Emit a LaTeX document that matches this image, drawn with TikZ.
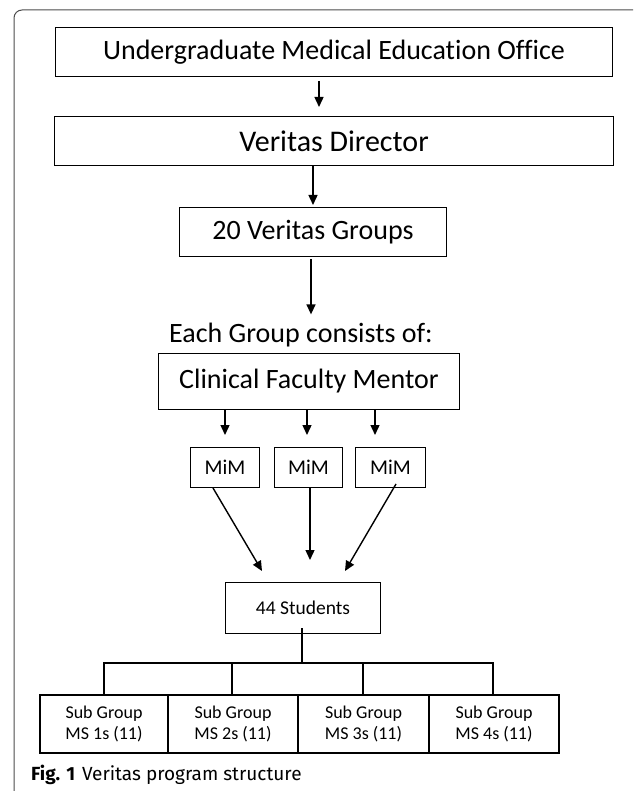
\documentclass[tikz,border=0pt]{standalone}
\usepackage{fontspec}
\setmainfont{Carlito}[Ligatures=NoCommon]
\newfontfamily\capfont{Fira Sans}
\usetikzlibrary{arrows.meta}
\tikzset{
  box/.style={draw, line width=1pt, inner sep=0pt, anchor=north west},
  subbox/.style={draw, line width=2pt, inner sep=0pt, anchor=north west, align=center, font=\fontsize{18}{21}\selectfont},
  arr/.style={line width=1.4pt, -{Triangle[length=10pt,width=9pt]}},
  conn/.style={line width=1.4pt},
}
\begin{document}
\begin{tikzpicture}[x=1pt,y=-1pt]
\useasboundingbox (0,0) rectangle (633,791);
\clip (0,0) rectangle (633,791);
% frame
\draw[black!70, line width=1pt, rounded corners=8pt] (14,800) -- (14,10) -- (650,10) -- (650,800);
% boxes
\node[box, minimum width=557pt, minimum height=49pt] (b1) at (55,27) {\fontsize{28}{32}\selectfont Undergraduate Medical Education Office};
\node[box, minimum width=559pt, minimum height=49pt] (b2) at (54,116) {\fontsize{30}{34}\selectfont Veritas Director};
\node[box, minimum width=267pt, minimum height=49pt] (b3) at (179,207) {\fontsize{28}{32}\selectfont 20 Veritas Groups};
\node[inner sep=0pt, anchor=base] (each) at (301,342) {\fontsize{28}{32}\selectfont Each Group consists of:};
\node[box, minimum width=301pt, minimum height=56pt] (b4) at (158,353) {\fontsize{28}{32}\selectfont Clinical Faculty Mentor};
\node[box, minimum width=69pt, minimum height=40pt] (m1) at (190,447) {\fontsize{21}{25}\selectfont MiM};
\node[box, minimum width=68pt, minimum height=40pt] (m2) at (274,447) {\fontsize{21}{25}\selectfont MiM};
\node[box, minimum width=70pt, minimum height=40pt] (m3) at (355,447) {\fontsize{21}{25}\selectfont MiM};
\node[box, minimum width=155pt, minimum height=51pt] (st) at (225,582) {\fontsize{19.5}{23}\selectfont 44 Students};
\node[subbox, minimum width=128pt, minimum height=58pt] (s1) at (39,694) {Sub Group\\MS 1s (11)};
\node[subbox, minimum width=130pt, minimum height=58pt] (s2) at (167,694) {Sub Group\\MS 2s (11)};
\node[subbox, minimum width=131pt, minimum height=58pt] (s3) at (297,694) {Sub Group\\MS 3s (11)};
\node[subbox, minimum width=130pt, minimum height=58pt] (s4) at (428,694) {Sub Group\\MS 4s (11)};
% caption
\node[anchor=base west, inner sep=0pt] (cap) at (31,780) {\capfont\fontsize{19}{22}\selectfont\textbf{Fig. 1}\hspace{7pt}Veritas program structure};
% arrows
\coordinate (x1) at (319,0);
\coordinate (x2) at (313,0);
\coordinate (x3) at (311,0);
\draw[arr, shorten <=4pt, shorten >=9pt] (b1.south -| x1) -- (b2.north -| x1);
\draw[arr, shorten >=2pt] (b2.south -| x2) -- (b3.north -| x2);
\draw[arr, shorten <=2pt, shorten >=8pt] (b3.south -| x3) -- (each.north -| x3);
\coordinate (k1) at (225,0);
\coordinate (k2) at (307,0);
\coordinate (k3) at (375,0);
\draw[arr, shorten >=12pt] (b4.south -| k1) -- (m1.north -| k1);
\draw[arr, shorten >=12pt] (b4.south -| k2) -- (m2.north -| k2);
\draw[arr, shorten >=12pt] (b4.south -| k3) -- (m3.north -| k3);
\coordinate (t1) at (262,571);
\coordinate (t2) at (310,560);
\coordinate (t3) at (345,571);
\draw[arr] (m1.south -| 213,0) -- (t1);
\draw[arr] (m2.south -| t2) -- (t2);
\draw[arr] ([yshift=4pt]m3.south -| 396,0) -- (t3);
% tree
\coordinate (bar) at (302,663);
\draw[conn] ([yshift=6pt]st.south -| bar) -- (bar);
\draw[conn] (s1.north -| 104,0) -- (104,663) -- (493,663) -- (s4.north -| 493,0);
\draw[conn] (s2.north -| 232,0) -- (232,663);
\draw[conn] (s3.north -| 363,0) -- (363,663);
\end{tikzpicture}
\end{document}
